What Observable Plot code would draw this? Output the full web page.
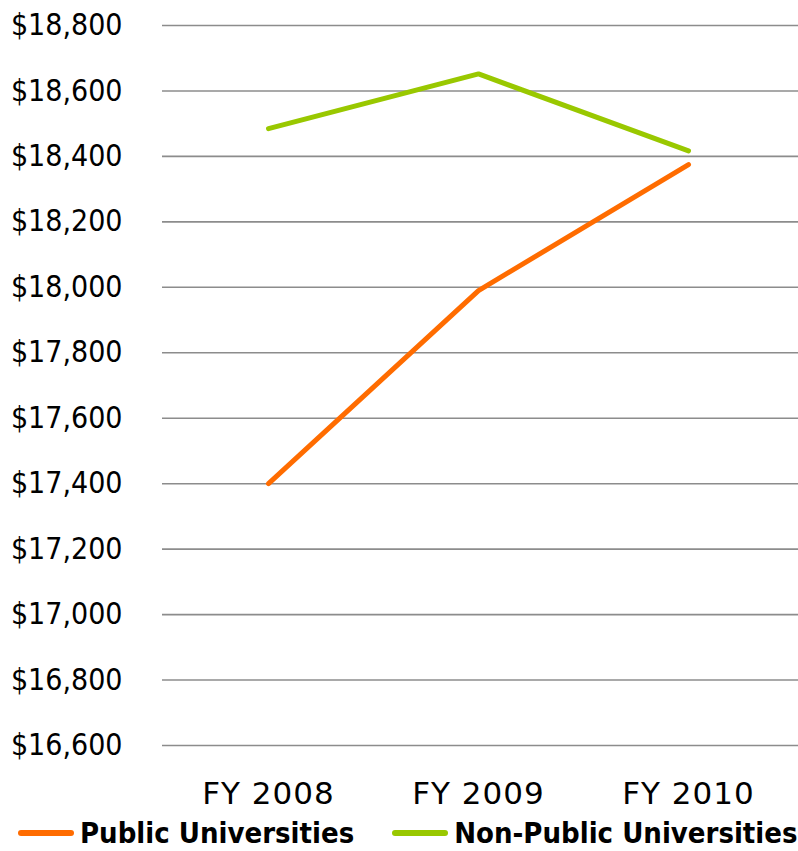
<!DOCTYPE html>
<html><head><meta charset="utf-8">
<script src="https://cdn.jsdelivr.net/npm/d3@7"></script>
<script src="https://cdn.jsdelivr.net/npm/@observablehq/plot@0.6"></script>
<style>
body{margin:0;background:#fff;font-family:"DejaVu Sans",sans-serif;}
#legend{display:flex;align-items:center;height:44px;font-family:"DejaVu Sans Condensed","DejaVu Sans",sans-serif;font-weight:bold;font-size:29px;color:#000;}
.sw{display:inline-block;width:56px;height:6px;border-radius:3px;margin-right:6px;}
.item{display:flex;align-items:center;}
.xax text{font-family:"DejaVu Sans",sans-serif;font-size:31px;letter-spacing:1px;}
.yax text{font-family:"DejaVu Sans Condensed","DejaVu Sans",sans-serif;font-size:30px;}
</style></head><body>
<div id="chart"></div>
<div id="legend"></div>
<script>
const years = ["FY 2008", "FY 2009", "FY 2010"];
const publicVals = [17400, 17990, 18375];
const nonPublicVals = [18485, 18652, 18417];
const seriesNames = ["Public Universities", "Non-Public Universities"];
const seriesColors = ["#FF6C00", "#99C800"];
const yTicks = [16600,16800,17000,17200,17400,17600,17800,18000,18200,18400,18600,18800];

const data = [];
years.forEach((y,i)=>{
  data.push({year:y, value:publicVals[i], series:seriesNames[0]});
  data.push({year:y, value:nonPublicVals[i], series:seriesNames[1]});
});

const chart = Plot.plot({
  width: 798,
  height: 811,
  marginTop: 25,
  marginBottom: 66,
  marginLeft: 162,
  marginRight: 4,
  style: {fontFamily: "DejaVu Sans, sans-serif", fontSize: "30px", color: "#000", overflow: "visible"},
  x: {type: "point", domain: years, padding: 0.5, label: null, axis: null},
  y: {domain: [16600, 18800], label: null, axis: null},
  color: {domain: seriesNames, range: seriesColors},
  marks: [
    Plot.ruleY(yTicks, {stroke: "#8c8c8c", strokeWidth: 1.6, insetRight: -4}),
    Plot.axisY(yTicks, {className: "yax", tickSize: 0, tickPadding: 40, label: null,
      tickFormat: d => "$" + d3.format(",")(d)}),
    Plot.axisX(years, {className: "xax", tickSize: 0, tickPadding: 36, label: null}),
    Plot.line(data, {x: "year", y: "value", z: "series", stroke: "series", strokeWidth: 5, strokeLinecap: "round", strokeLinejoin: "miter"})
  ]
});
document.getElementById("chart").appendChild(chart);

const lg = document.getElementById("legend");
seriesNames.forEach((n,i)=>{
  const it = document.createElement("span");
  it.className = "item";
  it.style.marginLeft = i===0 ? "18px" : "38px";
  const sw = document.createElement("span");
  sw.className = "sw";
  sw.style.background = seriesColors[i];
  it.appendChild(sw);
  it.appendChild(document.createTextNode(n));
  lg.appendChild(it);
});
</script>
</body></html>
